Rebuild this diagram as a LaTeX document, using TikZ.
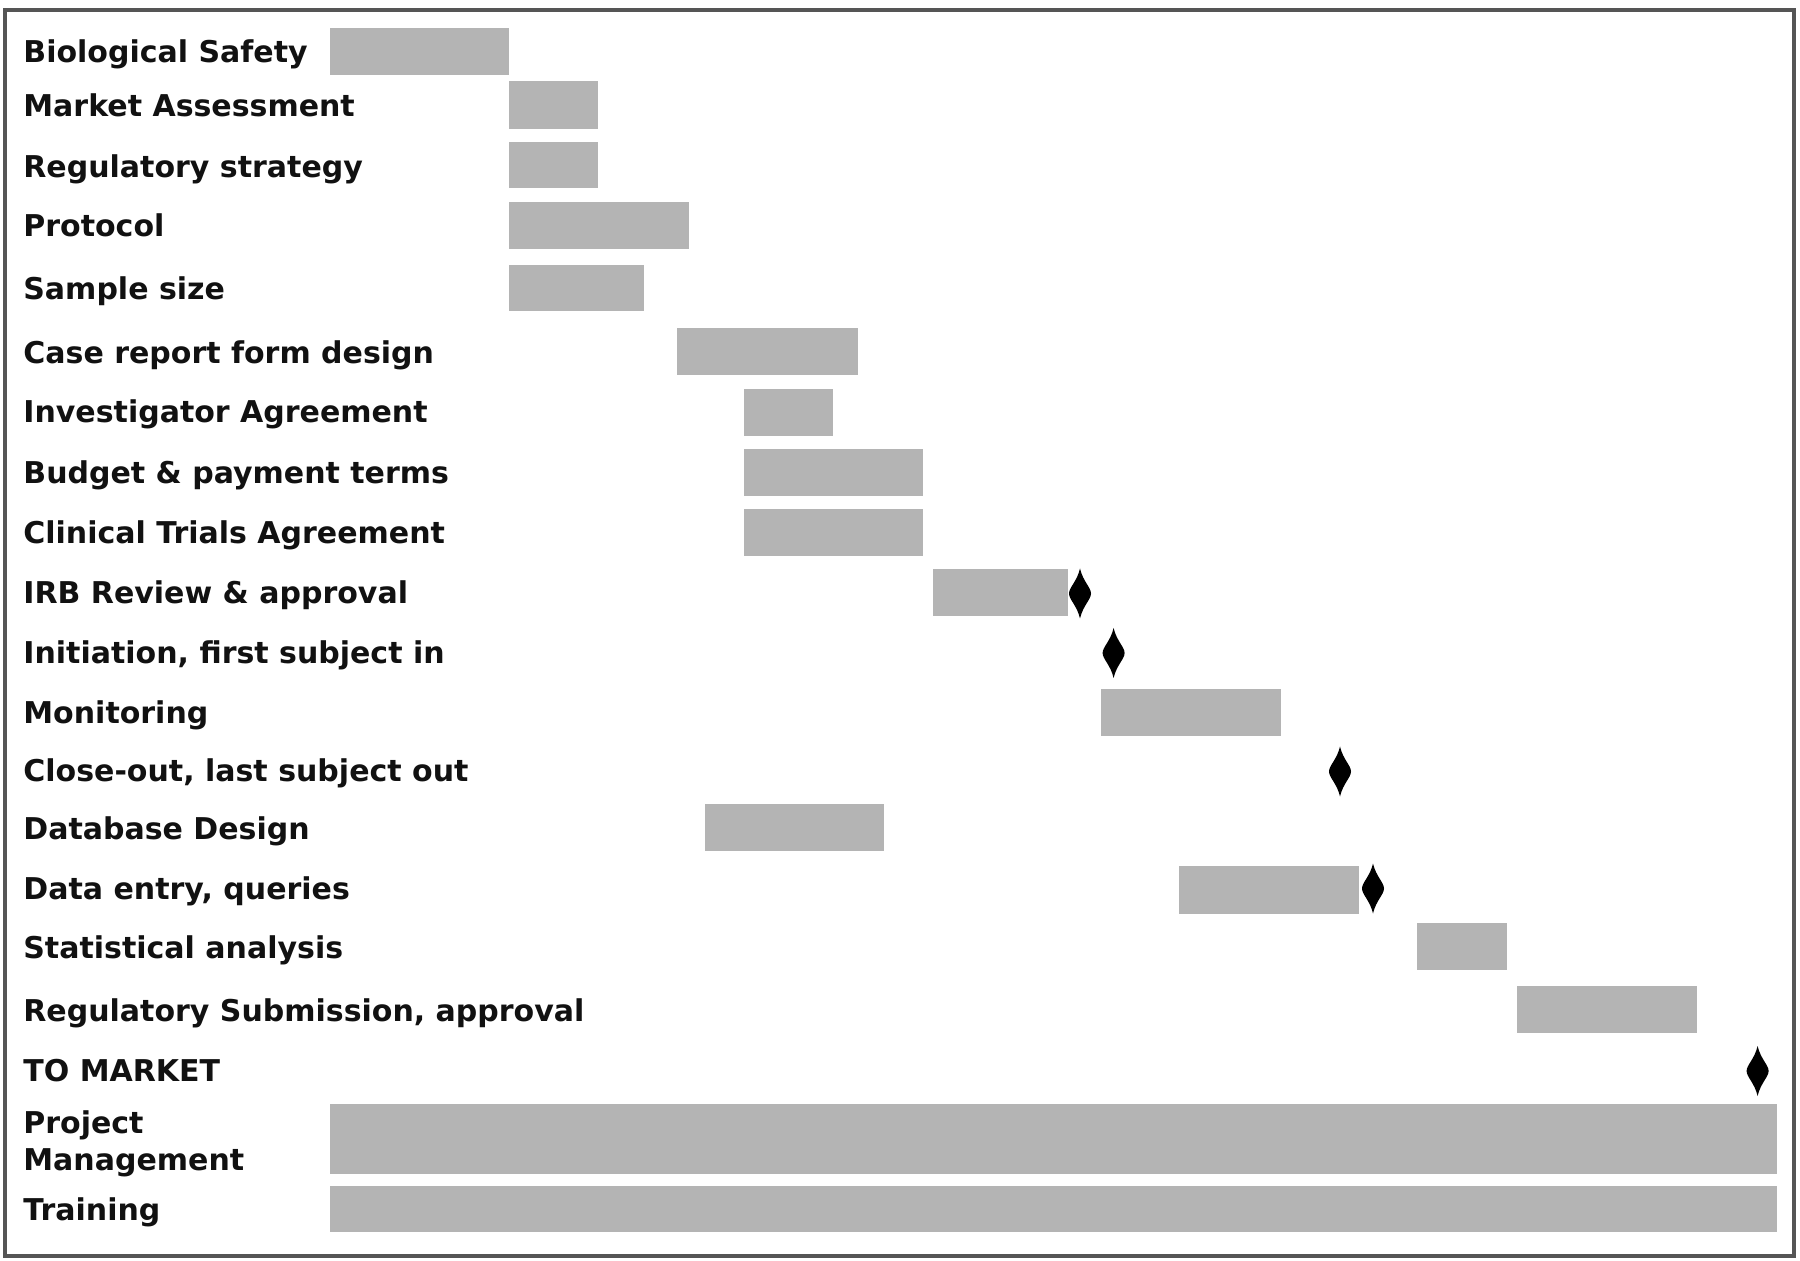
\documentclass[tikz,border=0pt]{standalone}
\usepackage{fontspec}
\setmainfont{DejaVu Sans}
\definecolor{barc}{RGB}{180,180,180}
\definecolor{framec}{RGB}{85,85,85}
\definecolor{txtc}{RGB}{17,17,17}
\begin{document}
\begin{tikzpicture}[x=0.5pt,y=-0.5pt,
  lbl/.style={anchor=base west,inner sep=0pt,text=txtc,font=\fontsize{15}{18.4}\selectfont\bfseries,align=left},
  bar/.style={fill=barc},
  ms/.style={fill=black}]
\useasboundingbox (0,0) rectangle (1800,1261);
\fill[white] (0,0) rectangle (1800,1261);
% frame
\draw[framec,line width=2pt] (5,10.5) rectangle (1794,1256);
% milestone macro
\newcommand{\milestone}[2]{%
  \fill[ms] (#1,#2-25) .. controls (#1+3,#2-12) and (#1+11,#2-6) .. (#1+11,#2)
   .. controls (#1+11,#2+6) and (#1+3,#2+12) .. (#1,#2+25)
   .. controls (#1-3,#2+12) and (#1-11,#2+6) .. (#1-11,#2)
   .. controls (#1-11,#2-6) and (#1-3,#2-12) .. cycle;}
% labels
\node[lbl] (l1) at (23,63) {Biological Safety};
\node[lbl] (l2) at (23,117) {Market Assessment};
\node[lbl] (l3) at (23,178) {Regulatory strategy};
\node[lbl] (l4) at (23,237) {Protocol};
\node[lbl] (l5) at (23,300) {Sample size};
\node[lbl] (l6) at (23,364) {Case report form design};
\node[lbl] (l7) at (23,423) {Investigator Agreement};
\node[lbl] (l8) at (23,484) {Budget \& payment terms};
\node[lbl] (l9) at (23,544) {Clinical Trials Agreement};
\node[lbl] (l10) at (23,604) {IRB Review \& approval};
\node[lbl] (l11) at (23,664) {Initiation, first subject in};
\node[lbl] (l12) at (23,724) {Monitoring};
\node[lbl] (l13) at (23,782) {Close-out, last subject out};
\node[lbl] (l14) at (23,839) {Database Design};
\node[lbl] (l15) at (23,899) {Data entry, queries};
\node[lbl] (l16) at (23,958) {Statistical analysis};
\node[lbl] (l17) at (23,1021) {Regulatory Submission, approval};
\node[lbl] (l18) at (23,1081) {TO MARKET};
\node[lbl] (l19) at (23,1170) {Project\\Management};
\node[lbl] (l20) at (23,1220) {Training};
% bars
\path[bar] (329.5,27.6) rectangle (508.6,74.6);
\path[bar] (508.6,81.5) rectangle (598,128.6);
\path[bar] (508.6,142.4) rectangle (598,188.3);
\path[bar] (508.6,202) rectangle (688.8,249);
\path[bar] (508.6,265) rectangle (644,311);
\path[bar] (677,328) rectangle (857.6,375);
\path[bar] (744,389) rectangle (833.4,436);
\path[bar] (744,449) rectangle (923,496);
\path[bar] (744,508.6) rectangle (923,555.6);
\path[bar] (933,569) rectangle (1067.6,616.5);
\path[bar] (1101,689) rectangle (1281,736);
\path[bar] (705,803.6) rectangle (884,850.7);
\path[bar] (1179,865.6) rectangle (1359,913.8);
\path[bar] (1416.6,923) rectangle (1507,970);
\path[bar] (1516.5,986) rectangle (1697,1033);
\path[bar] (329.5,1104) rectangle (1777,1174);
\path[bar] (329.5,1186) rectangle (1777,1232);
% milestones
\milestone{1080}{593.5}
\milestone{1113.6}{653}
\milestone{1340}{771.5}
\milestone{1373}{888.5}
\milestone{1757.6}{1071}
\end{tikzpicture}
\end{document}
